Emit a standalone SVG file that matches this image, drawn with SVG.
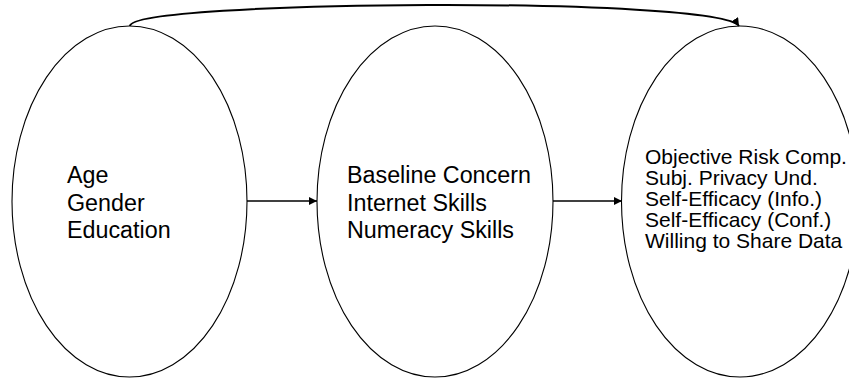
<svg xmlns="http://www.w3.org/2000/svg" width="849" height="381" viewBox="0 0 849 381">
<style>
.node{fill:#fff;stroke:#000;stroke-width:1.1}
.lbl{font-family:"Liberation Sans",Arial,sans-serif;fill:#000}
.big{font-size:23.3px}
.small{font-size:21px}
.conn{fill:none;stroke:#000;stroke-width:1.4}
</style>
<defs>
<marker id="arr" viewBox="0 0 10 10" refX="10" refY="5" markerWidth="8" markerHeight="8" markerUnits="userSpaceOnUse" orient="auto">
<path d="M0,0 L10,5 L0,10 z" fill="#000"/>
</marker>
</defs>
<rect width="849" height="381" fill="#fff"/>
<g id="node-demographics">
<ellipse class="node" cx="129.5" cy="201.5" rx="117.5" ry="175.5"/>
<text class="lbl big" x="67" y="183">Age</text>
<text class="lbl big" x="67" y="210.5">Gender</text>
<text class="lbl big" x="67" y="238">Education</text>
</g>
<g id="node-skills">
<ellipse class="node" cx="435" cy="201.5" rx="118" ry="175.5"/>
<text class="lbl big" x="347" y="183">Baseline Concern</text>
<text class="lbl big" x="347" y="210.5">Internet Skills</text>
<text class="lbl big" x="347" y="238">Numeracy Skills</text>
</g>
<g id="node-outcomes">
<ellipse class="node" cx="740" cy="201.5" rx="118.5" ry="175.5"/>
<text class="lbl small" x="645" y="163.5">Objective Risk Comp.</text>
<text class="lbl small" x="645" y="184.5">Subj. Privacy Und.</text>
<text class="lbl small" x="645" y="205.5">Self-Efficacy (Info.)</text>
<text class="lbl small" x="645" y="226.5">Self-Efficacy (Conf.)</text>
<text class="lbl small" x="645" y="247.5">Willing to Share Data</text>
</g>
<g id="connectors">
<path class="conn" d="M247,201 L317,201" marker-end="url(#arr)"/>
<path class="conn" d="M553,201 L622,201" marker-end="url(#arr)"/>
<path class="conn" style="stroke-width:2" d="M130,26 C132,0 720,-4 739,26" marker-end="url(#arr)"/>
</g>
</svg>
